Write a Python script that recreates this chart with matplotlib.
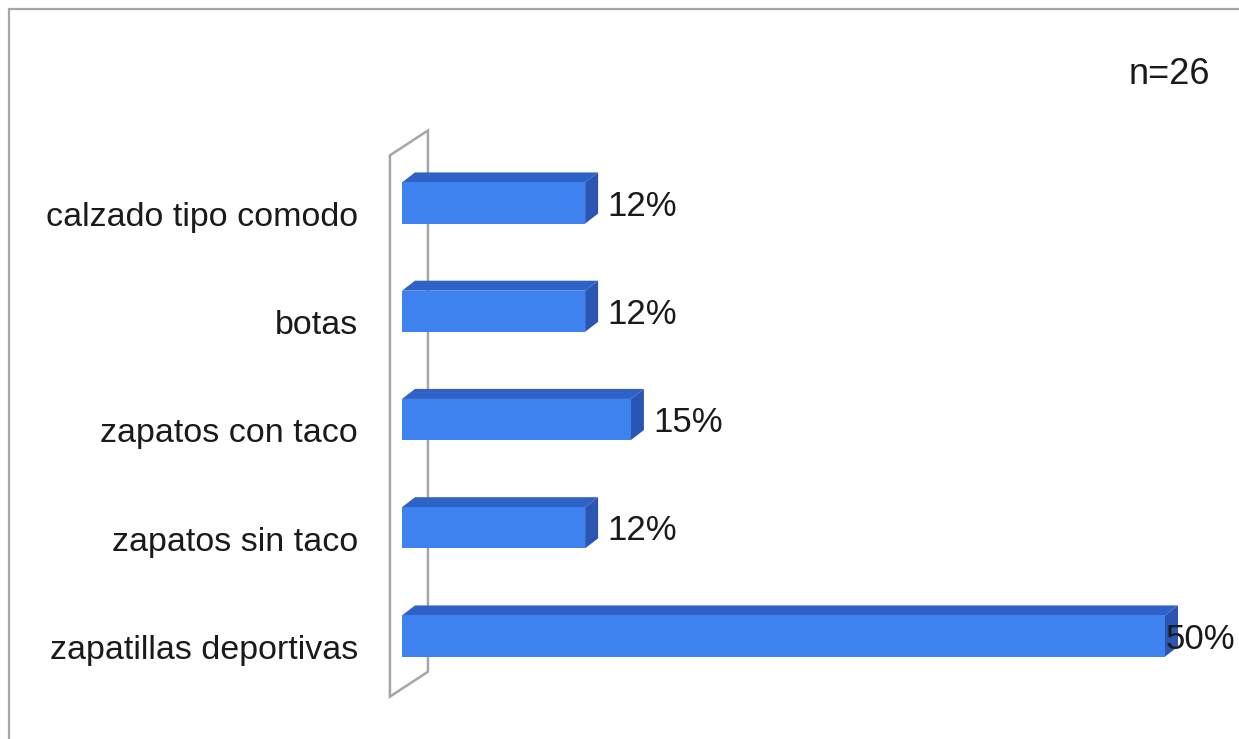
import matplotlib.pyplot as plt
from matplotlib.patches import Polygon, Rectangle

# ------------------ data ------------------
categories = ["zapatillas deportivas", "zapatos sin taco", "zapatos con taco",
              "botas", "calzado tipo comodo"]
values = [50, 12, 15, 12, 12]
value_labels = ["50%", "12%", "15%", "12%", "12%"]
sample_note = "n=26"

FRONT = "#3e82ef"
TOP = "#2f62c6"
SIDE = "#2a55b3"
WALL = "#a6a6a6"

plt.rcParams['font.family'] = ['Liberation Sans', 'DejaVu Sans']

W, H = 1239, 739
fig = plt.figure(figsize=(W / 100, H / 100), dpi=100)
fig.patch.set_facecolor("white")

# outer chart frame (only left/top edges visible in the image)
fig.patches.append(Rectangle((9 / W, -0.05), 1.2, 1 - 9 / H + 0.05,
                             transform=fig.transFigure, fill=False,
                             edgecolor=WALL, linewidth=1.6))

# axes placed so 0% sits at x=402px, 15.26 px per %, 108.25 px per category
px_x, x0 = 15.26, 402
px_y, y0 = 108.25, 636
left_px, right_px, top_px, bot_px = 380, 1239, 100, 720
ax = fig.add_axes([left_px / W, 1 - bot_px / H, (right_px - left_px) / W,
                   (bot_px - top_px) / H])
ax.set_xlim((left_px - x0) / px_x, (right_px - x0) / px_x)
ax.set_ylim((y0 - bot_px) / px_y, (y0 - top_px) / px_y)
ax.axis("on")
for s in ax.spines.values():
    s.set_visible(False)
ax.set_xticks([])

# 3D wall behind the bars
wx0, wx1 = -0.79, 1.70
wy0, wy1, wdy = -0.56, 4.44, 0.23
ax.add_patch(Polygon([(wx0, wy0), (wx1, wy0 + wdy), (wx1, wy1 + wdy), (wx0, wy1)],
                     closed=True, facecolor="white", edgecolor=WALL, linewidth=1.8,
                     zorder=1))

# 3D bars
half = 0.19
ddx, ddy = 13 / px_x, 10 / px_y
for i, v in enumerate(values):
    yb, yt = i - half, i + half
    ax.add_patch(Polygon([(0, yt), (ddx, yt + ddy), (v + ddx, yt + ddy), (v, yt)],
                         closed=True, facecolor=TOP, edgecolor="none", zorder=3))
    ax.add_patch(Polygon([(v, yb), (v + ddx, yb + ddy), (v + ddx, yt + ddy), (v, yt)],
                         closed=True, facecolor=SIDE, edgecolor="none", zorder=3))
    ax.barh(i, v, height=2 * half, left=0, color=FRONT, zorder=4)
    lx = min(v + 22 / px_x, 50.05)
    ax.text(lx, i - 0.03, value_labels[i], ha="left", va="center",
            fontsize=25, color="#1a1a1a", zorder=5)

ax.set_yticks([i - 0.1 for i in range(len(categories))])
ax.set_yticklabels(categories, fontsize=24.5, color="#1a1a1a")
ax.tick_params(axis="y", length=0, pad=16)

fig.text(1210 / W, 1 - 75 / H, sample_note, ha="right", va="center",
         fontsize=26, color="#1a1a1a")

fig.savefig("out.png", dpi=100, facecolor="white")
